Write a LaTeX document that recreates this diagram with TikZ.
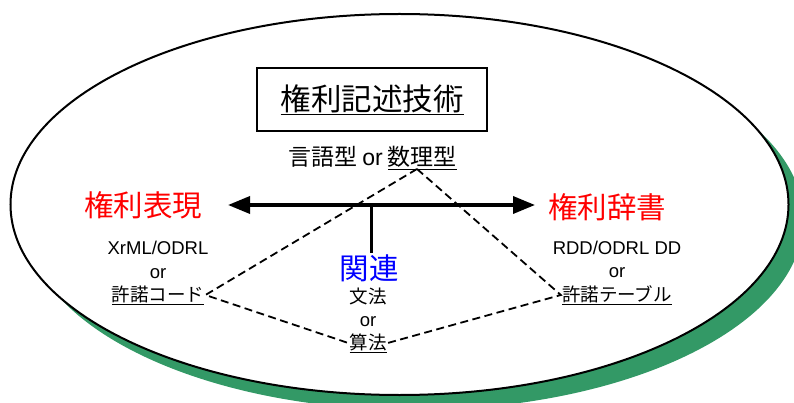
\documentclass[tikz,border=0pt]{standalone}
\usepackage{fontspec}
\setmainfont{Noto Sans CJK JP}
\newfontfamily\latinfont{Liberation Sans}
\usetikzlibrary{arrows.meta}
\definecolor{shgreen}{RGB}{51,153,102}
\definecolor{relblue}{RGB}{0,0,255}
\tikzset{
  big/.style={font=\fontsize{29.5}{32}\selectfont, inner sep=1pt},
  small/.style={font=\fontsize{18.5}{23.5}\selectfont, inner sep=1pt, align=center},
  dashline/.style={line width=1.8pt, dash pattern=on 8pt off 4.5pt},
  thickline/.style={line width=3.5pt},
}
\begin{document}
\begin{tikzpicture}[x=1pt,y=-1pt]
\useasboundingbox (0,0) rectangle (794,403);
\clip (0,0) rectangle (794,403);
% shadow and ellipse
\fill[shgreen] (414.5,219.5) ellipse [x radius=389pt, y radius=190.5pt];
\draw[line width=2pt, fill=white] (399.5,204.5) ellipse [x radius=389pt, y radius=190.5pt];
% title
\node[draw, line width=1.8pt, minimum width=230pt, minimum height=63pt, inner sep=0pt,
      font=\fontsize{30.5}{33}\selectfont] (title) at (372,99.5) {\underline{権利記述技術}};
% type line
\node[font=\fontsize{23}{26}\selectfont, inner sep=1pt] (typ) at (372.5,158) {言語型 {\latinfont or} \underline{数理型}};
% main labels
\node[big, text=red] (expr) at (143,205) {権利表現};
\node[big, text=red] (dict) at (607,207) {権利辞書};
\node[big, text=relblue] (rel) at (369,268) {関連};
% sub labels
\node[small] (xl) at (158,260) {{\latinfont XrML/ODRL}\\{\latinfont or}};
\node[small] (kc) at (158,295) {\underline{許諾コード}};
\node[small] (rl) at (617,259.5) {{\latinfont RDD/ODRL DD}\\{\latinfont or}};
\node[small] (kt) at (617,295) {\underline{許諾テーブル}};
\node[small] (gr) at (368,307.5) {文法\\{\latinfont or}};
\node[small] (sa) at (368,343) {\underline{算法}};
% arrows
\coordinate (al) at (228,205);
\coordinate (ar) at (535,205);
\coordinate (aj) at (371,205);
\draw[thickline, {Triangle[length=22pt,width=17pt]}-{Triangle[length=22pt,width=17pt]}] (al) -- (ar);
\draw[line width=3pt] (aj) -- (aj |- rel.north);
% dashed triangle
\coordinate (apex) at (417,169);
\draw[dashline] (apex) -- (kc.east) -- (sa.west);
\draw[dashline] (apex) -- (kt.west) -- (sa.east);
\end{tikzpicture}
\end{document}
